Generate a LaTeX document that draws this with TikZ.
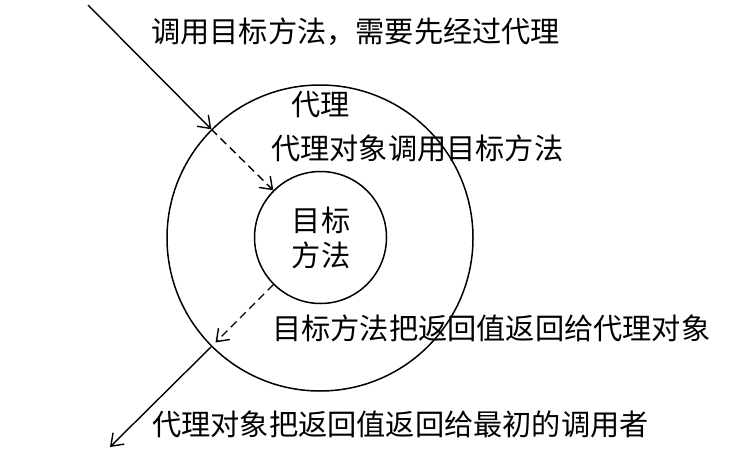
\documentclass[tikz,border=0pt]{standalone}
\usepackage{fontspec}
\newfontfamily\cjk{Noto Sans CJK SC}
\usetikzlibrary{arrows.meta}
\tikzset{
  lbl/.style={font=\cjk\fontsize{29.2pt}{35pt}\selectfont, inner sep=0pt, anchor=west},
  ring/.style={draw, circle, line width=1.5pt, inner sep=0pt},
  conn/.style={line width=1.4pt, -{Straight Barb[length=11pt,width=16pt,line width=1.4pt]}},
  dashconn/.style={conn, dash pattern=on 8pt off 5pt},
}
\begin{document}
\begin{tikzpicture}[x=1pt,y=-1pt]
\useasboundingbox (0,0) rectangle (754,460);
\node[ring, minimum size=306pt] (outer) at (320,238) {};
\node[ring, minimum size=132pt] (inner) at (320.5,237.5) {};
\node[lbl, anchor=center] (t1) at (321,220) {目标};
\node[lbl, anchor=center] (t2) at (321,255) {方法};
\coordinate (start) at (88,5);
\coordinate (endc) at (110,447);
\draw[conn] (start) -- (outer.135);
\draw[dashconn] (outer.135) -- (inner.135);
\draw[dashconn, shorten >=6pt] (inner.225) -- (outer.225);
\draw[conn] (outer.225) -- (endc);
\node[lbl] (top) at (151,32) {调用目标方法，需要先经过代理};
\node[lbl] (proxy) at (291,105) {代理};
\node[lbl] (call) at (271,148) {代理对象调用目标方法};
\node[lbl] (ret) at (272,328) {目标方法把返回值返回给代理对象};
\node[lbl] (ret2) at (152,424) {代理对象把返回值返回给最初的调用者};
\end{tikzpicture}
\end{document}
